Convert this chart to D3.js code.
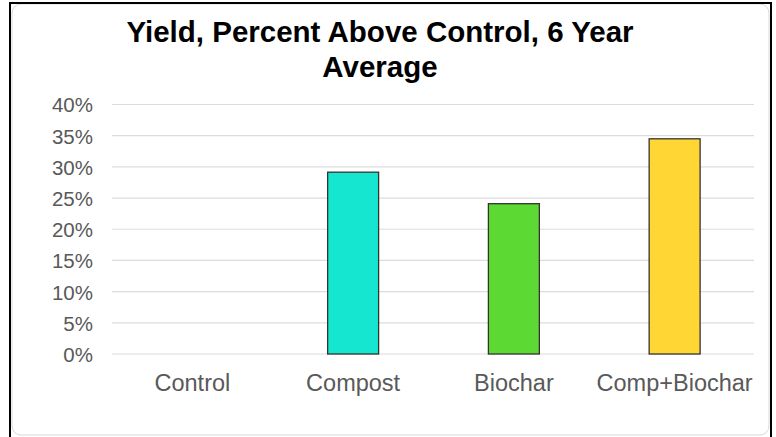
<!DOCTYPE html>
<html><head><meta charset="utf-8">
<script src="https://cdn.jsdelivr.net/npm/d3@7"></script>
<style>html,body{margin:0;padding:0;background:#fff;}svg{display:block;}</style>
</head><body>
<script>
const categories = ["Control", "Compost", "Biochar", "Comp+Biochar"];
const values = [0, 0.2915, 0.241, 0.345];
const barColors = ["#9E9E9E", "#15E6CF", "#5DD933", "#FFD633"];
const yTicks = [0, 0.05, 0.10, 0.15, 0.20, 0.25, 0.30, 0.35, 0.40];
const titleLines = ["Yield, Percent Above Control, 6 Year", "Average"];

const W = 776, H = 437;
const svg = d3.select("body").append("svg").attr("width", W).attr("height", H);

// outer frame
svg.append("rect").attr("x", 12).attr("y", 4).attr("width", 757).attr("height", 431)
  .attr("rx", 9).attr("ry", 9).attr("fill", "#fff").attr("stroke", "#d9d9d9").attr("stroke-width", 1);
svg.append("path").attr("d", "M10,437 V3 H771 V437").attr("fill", "none").attr("stroke", "#000").attr("stroke-width", 2);

const x = d3.scaleBand().domain(categories).range([112, 755]).paddingInner(0.683).paddingOuter(0.3415);
const y = d3.scaleLinear().domain([0, 0.40]).range([354, 104.5]);

// gridlines
svg.append("g").selectAll("line").data(yTicks).join("line")
  .attr("x1", 112).attr("x2", 754)
  .attr("y1", d => y(d)).attr("y2", d => y(d))
  .attr("stroke", "#dcdcdc").attr("stroke-width", 1.2);

// y axis labels
const yAxis = d3.axisLeft(y).tickValues(yTicks).tickFormat(d3.format(".0%")).tickSize(0).tickPadding(0);
const ga = svg.append("g").attr("transform", "translate(93,0)").call(yAxis);
ga.select(".domain").remove();
ga.selectAll("text").attr("font-family", "Liberation Sans, Arial, sans-serif")
  .attr("font-size", 20.5).attr("fill", "#595959").attr("dy", "0.36em");

// bars
svg.append("g").selectAll("rect").data(categories.map((c, i) => ({c, v: values[i], col: barColors[i]})).filter(d => d.v > 0))
  .join("rect")
  .attr("x", d => x(d.c)).attr("width", x.bandwidth())
  .attr("y", d => y(d.v)).attr("height", d => y(0) - y(d.v))
  .attr("fill", d => d.col).attr("stroke", "#333").attr("stroke-width", 1.3);

// x axis labels
const xAxis = d3.axisBottom(x).tickSize(0).tickPadding(0);
const gx = svg.append("g").attr("transform", "translate(0,391)").call(xAxis);
gx.select(".domain").remove();
gx.selectAll("text").attr("font-family", "Liberation Sans, Arial, sans-serif")
  .attr("font-size", 23.5).attr("fill", "#595959").attr("dy", 0).attr("y", 0);

// title
svg.append("g").selectAll("text").data(titleLines).join("text")
  .attr("x", 380).attr("y", (d, i) => 42 + i * 35)
  .attr("text-anchor", "middle")
  .attr("font-family", "Liberation Sans, Arial, sans-serif")
  .attr("font-weight", "bold").attr("font-size", 29.5).attr("fill", "#000")
  .text(d => d);
</script>
</body></html>
